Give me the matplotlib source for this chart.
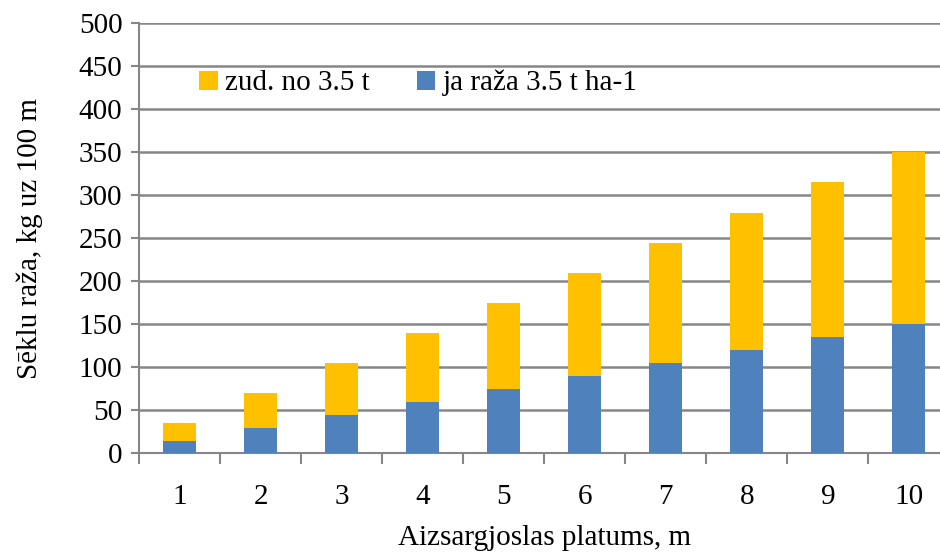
"""
Sēklu raža pa aizsargjoslas platumiem - sakrautās joslas
"""
import matplotlib
matplotlib.use("Agg")
import matplotlib.pyplot as plt
import numpy as np

# Dati
platums = ["1", "2", "3", "4", "5", "6", "7", "8", "9", "10"]
raza_35 = [15, 30, 45, 60, 75, 90, 105, 120, 135, 150]
zudumi = [20, 40, 60, 80, 100, 120, 140, 160, 180, 200]
y_ticks = [0, 50, 100, 150, 200, 250, 300, 350, 400, 450, 500]

ZILS = "#4F81BD"
DZELTENS = "#FFC000"
PELEKS = "#868686"
FS = 21

plt.rcParams["font.family"] = ["Liberation Serif", "DejaVu Serif"]

fig = plt.figure(figsize=(9.4, 5.55), dpi=100)
ax = fig.add_axes([0.148, 0.183, 0.862, 0.775])

x = np.arange(len(platums))
ax.bar(x, raza_35, width=0.41, color=ZILS, label="ja raža 3.5 t ha-1", zorder=3)
ax.bar(x, zudumi, width=0.41, bottom=raza_35, color=DZELTENS,
       label="zud. no 3.5 t", zorder=3)

ax.set_xlim(-0.5, len(platums) - 0.5)
ax.set_ylim(0, 500)
ax.set_yticks(y_ticks)
ax.set_xticks(x)
ax.set_xticklabels(platums)
ax.set_xticks(np.arange(-0.5, len(platums), 1.0), minor=True)

# Režģis un rāmis
ax.grid(axis="y", color=PELEKS, linewidth=1.8, zorder=0)
for spine in ["top", "right"]:
    ax.spines[spine].set_visible(False)
for spine in ["left", "bottom"]:
    ax.spines[spine].set_color(PELEKS)
    ax.spines[spine].set_linewidth(1.5)

ax.tick_params(axis="y", length=6, width=1.5, color=PELEKS, labelsize=FS, pad=6)
ax.tick_params(axis="x", which="major", length=0, labelsize=FS, pad=22)
ax.tick_params(axis="x", which="minor", length=8, width=1.5, color=PELEKS)

ax.set_xlabel("Aizsargjoslas platums, m", fontsize=FS, labelpad=11)
ax.set_ylabel("Sēklu raža, kg uz 100 m", fontsize=FS, labelpad=26)

# Leģenda - dzeltenais pirmais
h, l = ax.get_legend_handles_labels()
fig.legend(h[::-1], l[::-1], ncol=2, frameon=False, fontsize=FS,
           loc="center", bbox_to_anchor=(0.445, 0.85),
           handlelength=0.65, handleheight=0.65, handletextpad=0.25,
           columnspacing=1.6)

fig.savefig("out.png", dpi=100)
plt.close(fig)
